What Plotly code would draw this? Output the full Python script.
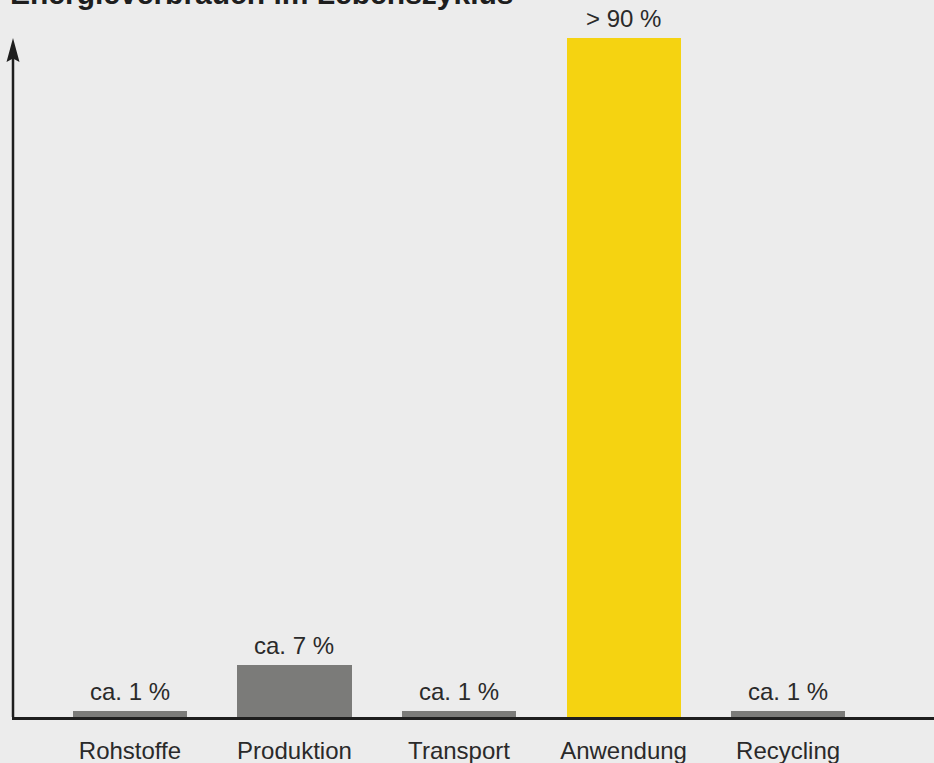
import plotly.graph_objects as go

categories = ["Rohstoffe", "Produktion", "Transport", "Anwendung", "Recycling"]
values = [0.8, 7, 0.8, 91.4, 0.8]
value_labels = ["ca. 1 %", "ca. 7 %", "ca. 1 %", "> 90 %", "ca. 1 %"]
bar_colors = ["#7b7b79", "#7b7b79", "#7b7b79", "#f5d311", "#7b7b79"]
title_text = "Energieverbrauch im Lebenszyklus"

BG = "#ececec"
TXT = "#2a2a2a"
AX = "#1e1e1e"
FONT = "Liberation Sans, Arial, sans-serif"

W, H = 934, 763
ML, MR, MT, MB = 12, 0, 38, 46
PW, PH = W - ML - MR, H - MT - MB

fig = go.Figure()
fig.add_trace(go.Bar(
    x=list(range(len(categories))),
    y=values,
    marker=dict(color=bar_colors, line=dict(width=0)),
    width=0.693,
    hoverinfo="skip",
))

annotations = []
for i, (v, lab) in enumerate(zip(values, value_labels)):
    annotations.append(dict(
        x=i, y=v, xref="x", yref="y", text=lab, showarrow=False,
        yanchor="middle", xanchor="center", yshift=20,
        font=dict(family=FONT, size=24, color=TXT),
    ))

# Title (cut at the top edge as in the reference)
annotations.append(dict(
    x=0, y=1, xref="paper", yref="paper", text="<b>" + title_text + "</b>",
    showarrow=False, xanchor="left", yanchor="bottom", yshift=26, xshift=-4,
    font=dict(family=FONT, size=30, color=AX),
))

# Y axis shaft and arrow head
head_len, head_half = 24 / PH, 6.5 / PW
x_ax = 1 / PW
shapes = [
    dict(type="line", xref="paper", yref="paper", x0=x_ax, x1=x_ax, y0=0, y1=1 - 10 / PH,
         line=dict(color=AX, width=2.5)),
    dict(type="path", xref="paper", yref="paper",
         path=f"M{x_ax},1 L{x_ax + head_half},{1 - head_len} L{x_ax},{1 - head_len * 0.85} "
              f"L{x_ax - head_half},{1 - head_len} Z",
         fillcolor=AX, line=dict(width=0)),
]

fig.update_layout(
    width=W, height=H,
    paper_bgcolor=BG, plot_bgcolor=BG,
    margin=dict(l=ML, r=MR, t=MT, b=MB),
    showlegend=False,
    bargap=0,
    annotations=annotations,
    shapes=shapes,
    xaxis=dict(
        range=[-0.717, 4.887],
        tickmode="array", tickvals=list(range(len(categories))), ticktext=categories,
        showgrid=False, zeroline=False, automargin=False,
        showline=True, linecolor=AX, linewidth=2.5,
        ticks="outside", ticklen=10, tickcolor=BG,
        tickfont=dict(family=FONT, size=24, color=TXT),
        fixedrange=True,
    ),
    yaxis=dict(
        range=[0, 91.4], showgrid=False, zeroline=False, showline=False, automargin=False,
        showticklabels=False, ticks="", fixedrange=True,
    ),
)

fig.write_html(
    "out.html",
    config={"displayModeBar": False},
    post_script="document.body.style.margin='0';document.body.style.background='#ececec';document.body.style.overflow='hidden';",
)
